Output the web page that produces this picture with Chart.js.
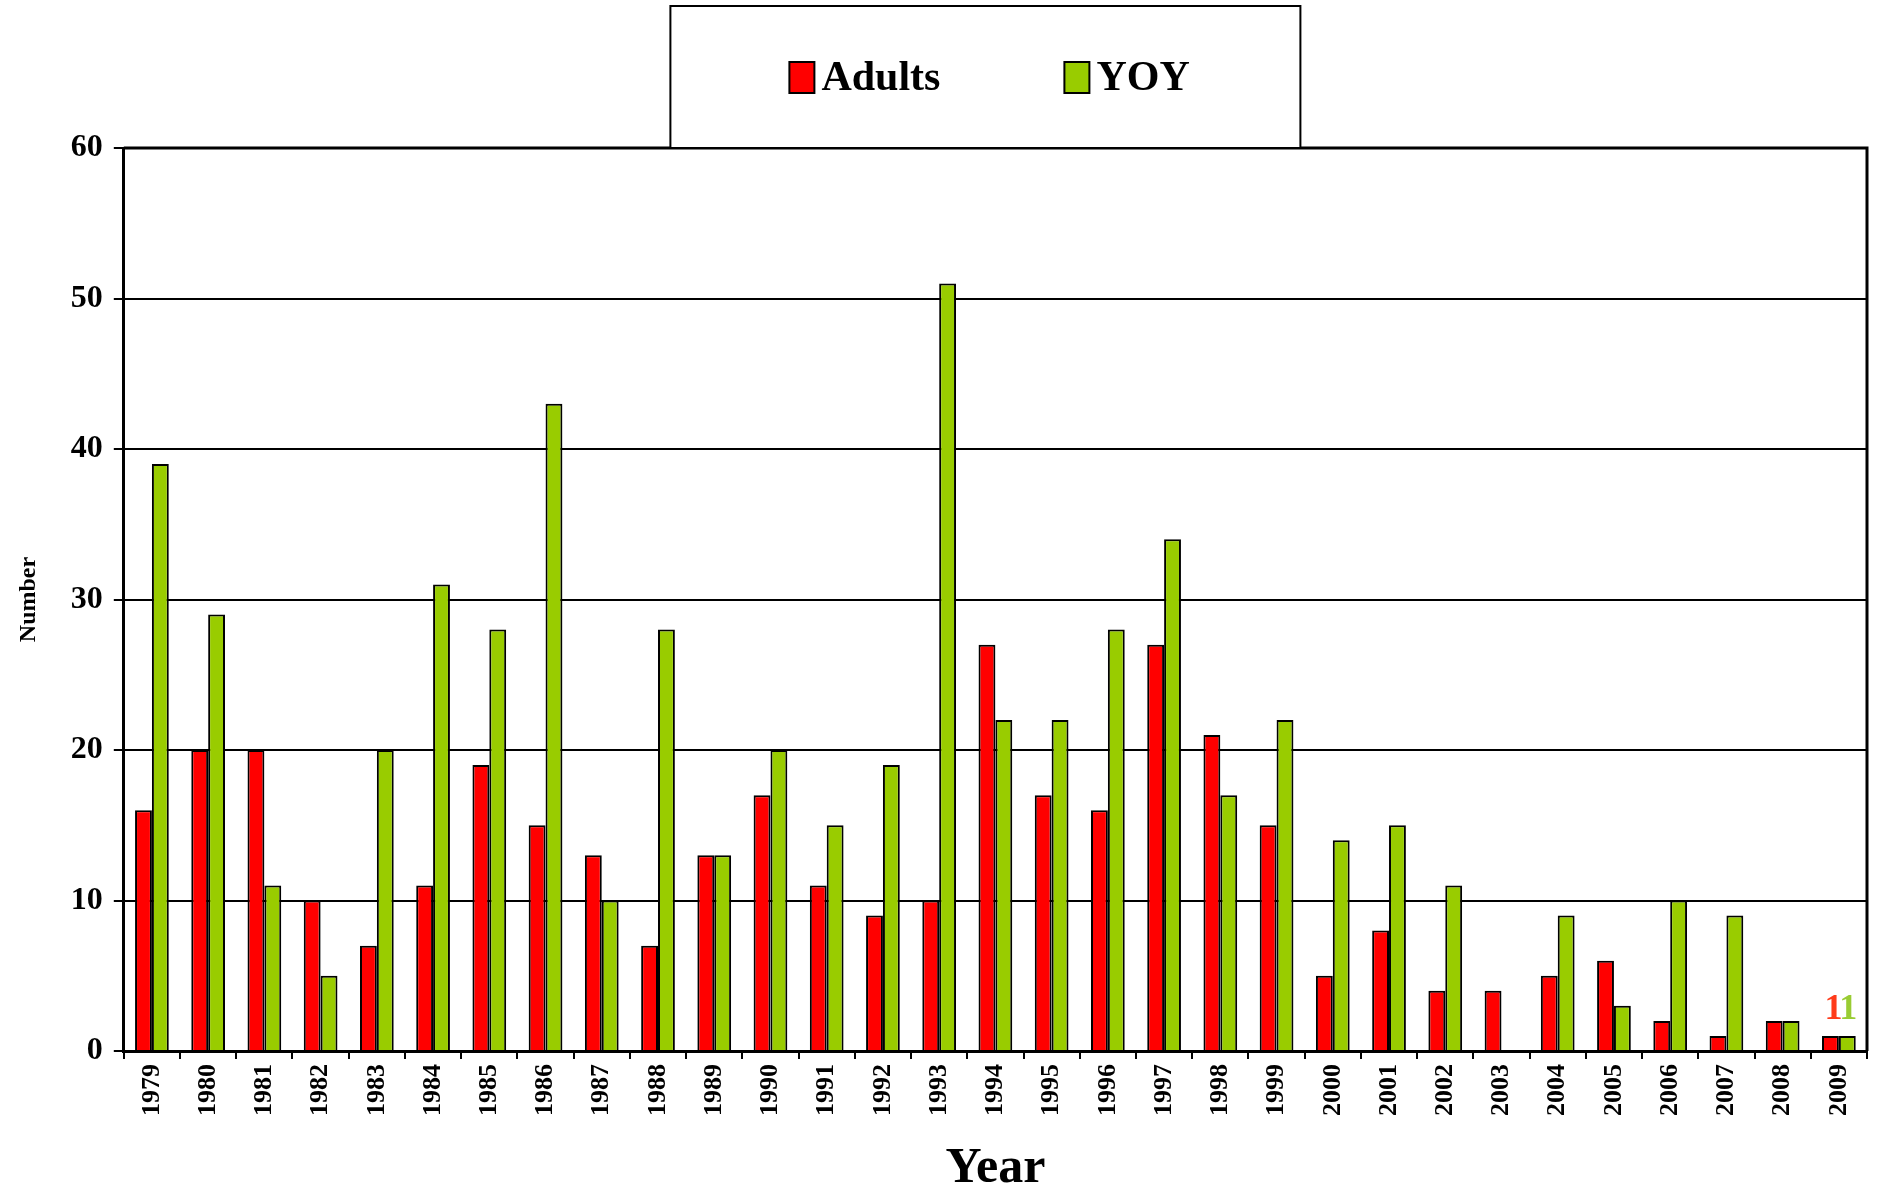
<!DOCTYPE html>
<html>
<head>
<meta charset="utf-8">
<script src="https://cdn.jsdelivr.net/npm/chart.js@4/dist/chart.umd.min.js"></script>
<style>
  body { margin: 0; background: #fff; }
  #chart { display: block; }
</style>
</head>
<body>
<canvas id="chart" width="1877" height="1194"></canvas>
<script>
const years = ["1979", "1980", "1981", "1982", "1983", "1984", "1985", "1986", "1987", "1988",
  "1989", "1990", "1991", "1992", "1993", "1994", "1995", "1996", "1997", "1998",
  "1999", "2000", "2001", "2002", "2003", "2004", "2005", "2006", "2007", "2008", "2009"];
const adults = [16, 20, 20, 10, 7, 11, 19, 15, 13, 7, 13, 17, 11, 9, 10, 27, 17, 16, 27, 21,
  15, 5, 8, 4, 4, 5, 6, 2, 1, 2, 1];
const yoy = [39, 29, 11, 5, 20, 31, 28, 43, 10, 28, 13, 20, 15, 19, 51, 22, 22, 28, 34, 17,
  22, 14, 15, 11, 0, 9, 3, 10, 9, 2, 1];
const yMax = 60;
const yStep = 10;

const serif = "'Liberation Serif', 'Times New Roman', serif";
const labelColors = ["#ff3b1a", "#99cc33"];

// legend drawn as a framed box sitting on top of the plot
const legendBox = {
  id: "legendBox",
  afterDraw(chart) {
    const ctx = chart.ctx;
    const area = chart.chartArea;
    const cx = (area.left + area.right) / 2 - 10;
    ctx.save();
    ctx.fillStyle = "#fff";
    ctx.strokeStyle = "#000";
    ctx.lineWidth = 2;
    ctx.fillRect(cx - 315, 6, 630, area.top - 6);
    ctx.strokeRect(cx - 315, 6, 630, area.top - 6);
    ctx.font = "bold 42px " + serif;
    ctx.textBaseline = "middle";
    chart.data.datasets.forEach((ds, i) => {
      const x = cx - 196 + i * 275;
      ctx.fillStyle = ds.backgroundColor;
      ctx.fillRect(x, 62, 25, 31);
      ctx.strokeRect(x, 62, 25, 31);
      ctx.fillStyle = "#000";
      ctx.fillText(ds.label, x + 32, 79);
    });
    ctx.restore();
  },
};

// right and top border of the plot
const frame = {
  id: "frame",
  afterDatasetsDraw(chart) {
    const { ctx, chartArea } = chart;
    ctx.save();
    ctx.strokeStyle = "#000";
    ctx.lineWidth = 3;
    ctx.beginPath();
    ctx.moveTo(chartArea.left, chartArea.top);
    ctx.lineTo(chartArea.right, chartArea.top);
    ctx.lineTo(chartArea.right, chartArea.bottom);
    ctx.stroke();
    ctx.restore();
  },
};

// value labels on the last year only
const lastLabels = {
  id: "lastLabels",
  afterDatasetsDraw(chart) {
    const ctx = chart.ctx;
    const last = years.length - 1;
    ctx.save();
    ctx.font = "bold 36px " + serif;
    ctx.textAlign = "center";
    ctx.textBaseline = "bottom";
    chart.data.datasets.forEach((ds, i) => {
      const bar = chart.getDatasetMeta(i).data[last];
      ctx.fillStyle = labelColors[i];
      ctx.fillText(String(ds.data[last]), bar.x + (i === 0 ? 3 : 1), bar.y - 8);
    });
    ctx.restore();
  },
};

new Chart(document.getElementById("chart"), {
  type: "bar",
  data: {
    labels: years,
    datasets: [
      {
        label: "Adults",
        data: adults,
        backgroundColor: "#ff0000",
        borderColor: "#000",
        borderWidth: 2,
      },
      {
        label: "YOY",
        data: yoy,
        backgroundColor: "#99cc00",
        borderColor: "#000",
        borderWidth: 2,
      },
    ],
  },
  options: {
    responsive: false,
    animation: false,
    layout: { padding: { top: 148, right: 10, left: 0, bottom: 0 } },
    datasets: {
      bar: { categoryPercentage: 0.6, barPercentage: 1.0 },
    },
    plugins: {
      legend: { display: false },
      tooltip: { enabled: false },
    },
    scales: {
      x: {
        grid: {
          offset: true,
          drawOnChartArea: false,
          tickLength: 8,
          color: "#000",
          lineWidth: 2,
        },
        border: { color: "#000", width: 3 },
        ticks: {
          minRotation: 90,
          maxRotation: 90,
          autoSkip: false,
          padding: 5,
          color: "#000",
          font: { family: serif, size: 26, weight: "bold" },
        },
        title: {
          display: true,
          text: "Year",
          color: "#000",
          font: { family: serif, size: 50, weight: "bold", lineHeight: 1.0 },
          padding: { top: 23, bottom: 0 },
        },
      },
      y: {
        min: 0,
        max: yMax,
        grid: { color: "#000", lineWidth: 2, tickLength: 10 },
        border: { color: "#000", width: 3 },
        ticks: {
          stepSize: yStep,
          padding: 11,
          color: "#000",
          font: { family: serif, size: 32, weight: "bold" },
        },
        title: {
          display: true,
          text: "Number",
          color: "#000",
          font: { family: serif, size: 24, weight: "bold" },
          padding: { top: 14, bottom: 17 },
        },
      },
    },
  },
  plugins: [legendBox, frame, lastLabels],
});
</script>
</body>
</html>
